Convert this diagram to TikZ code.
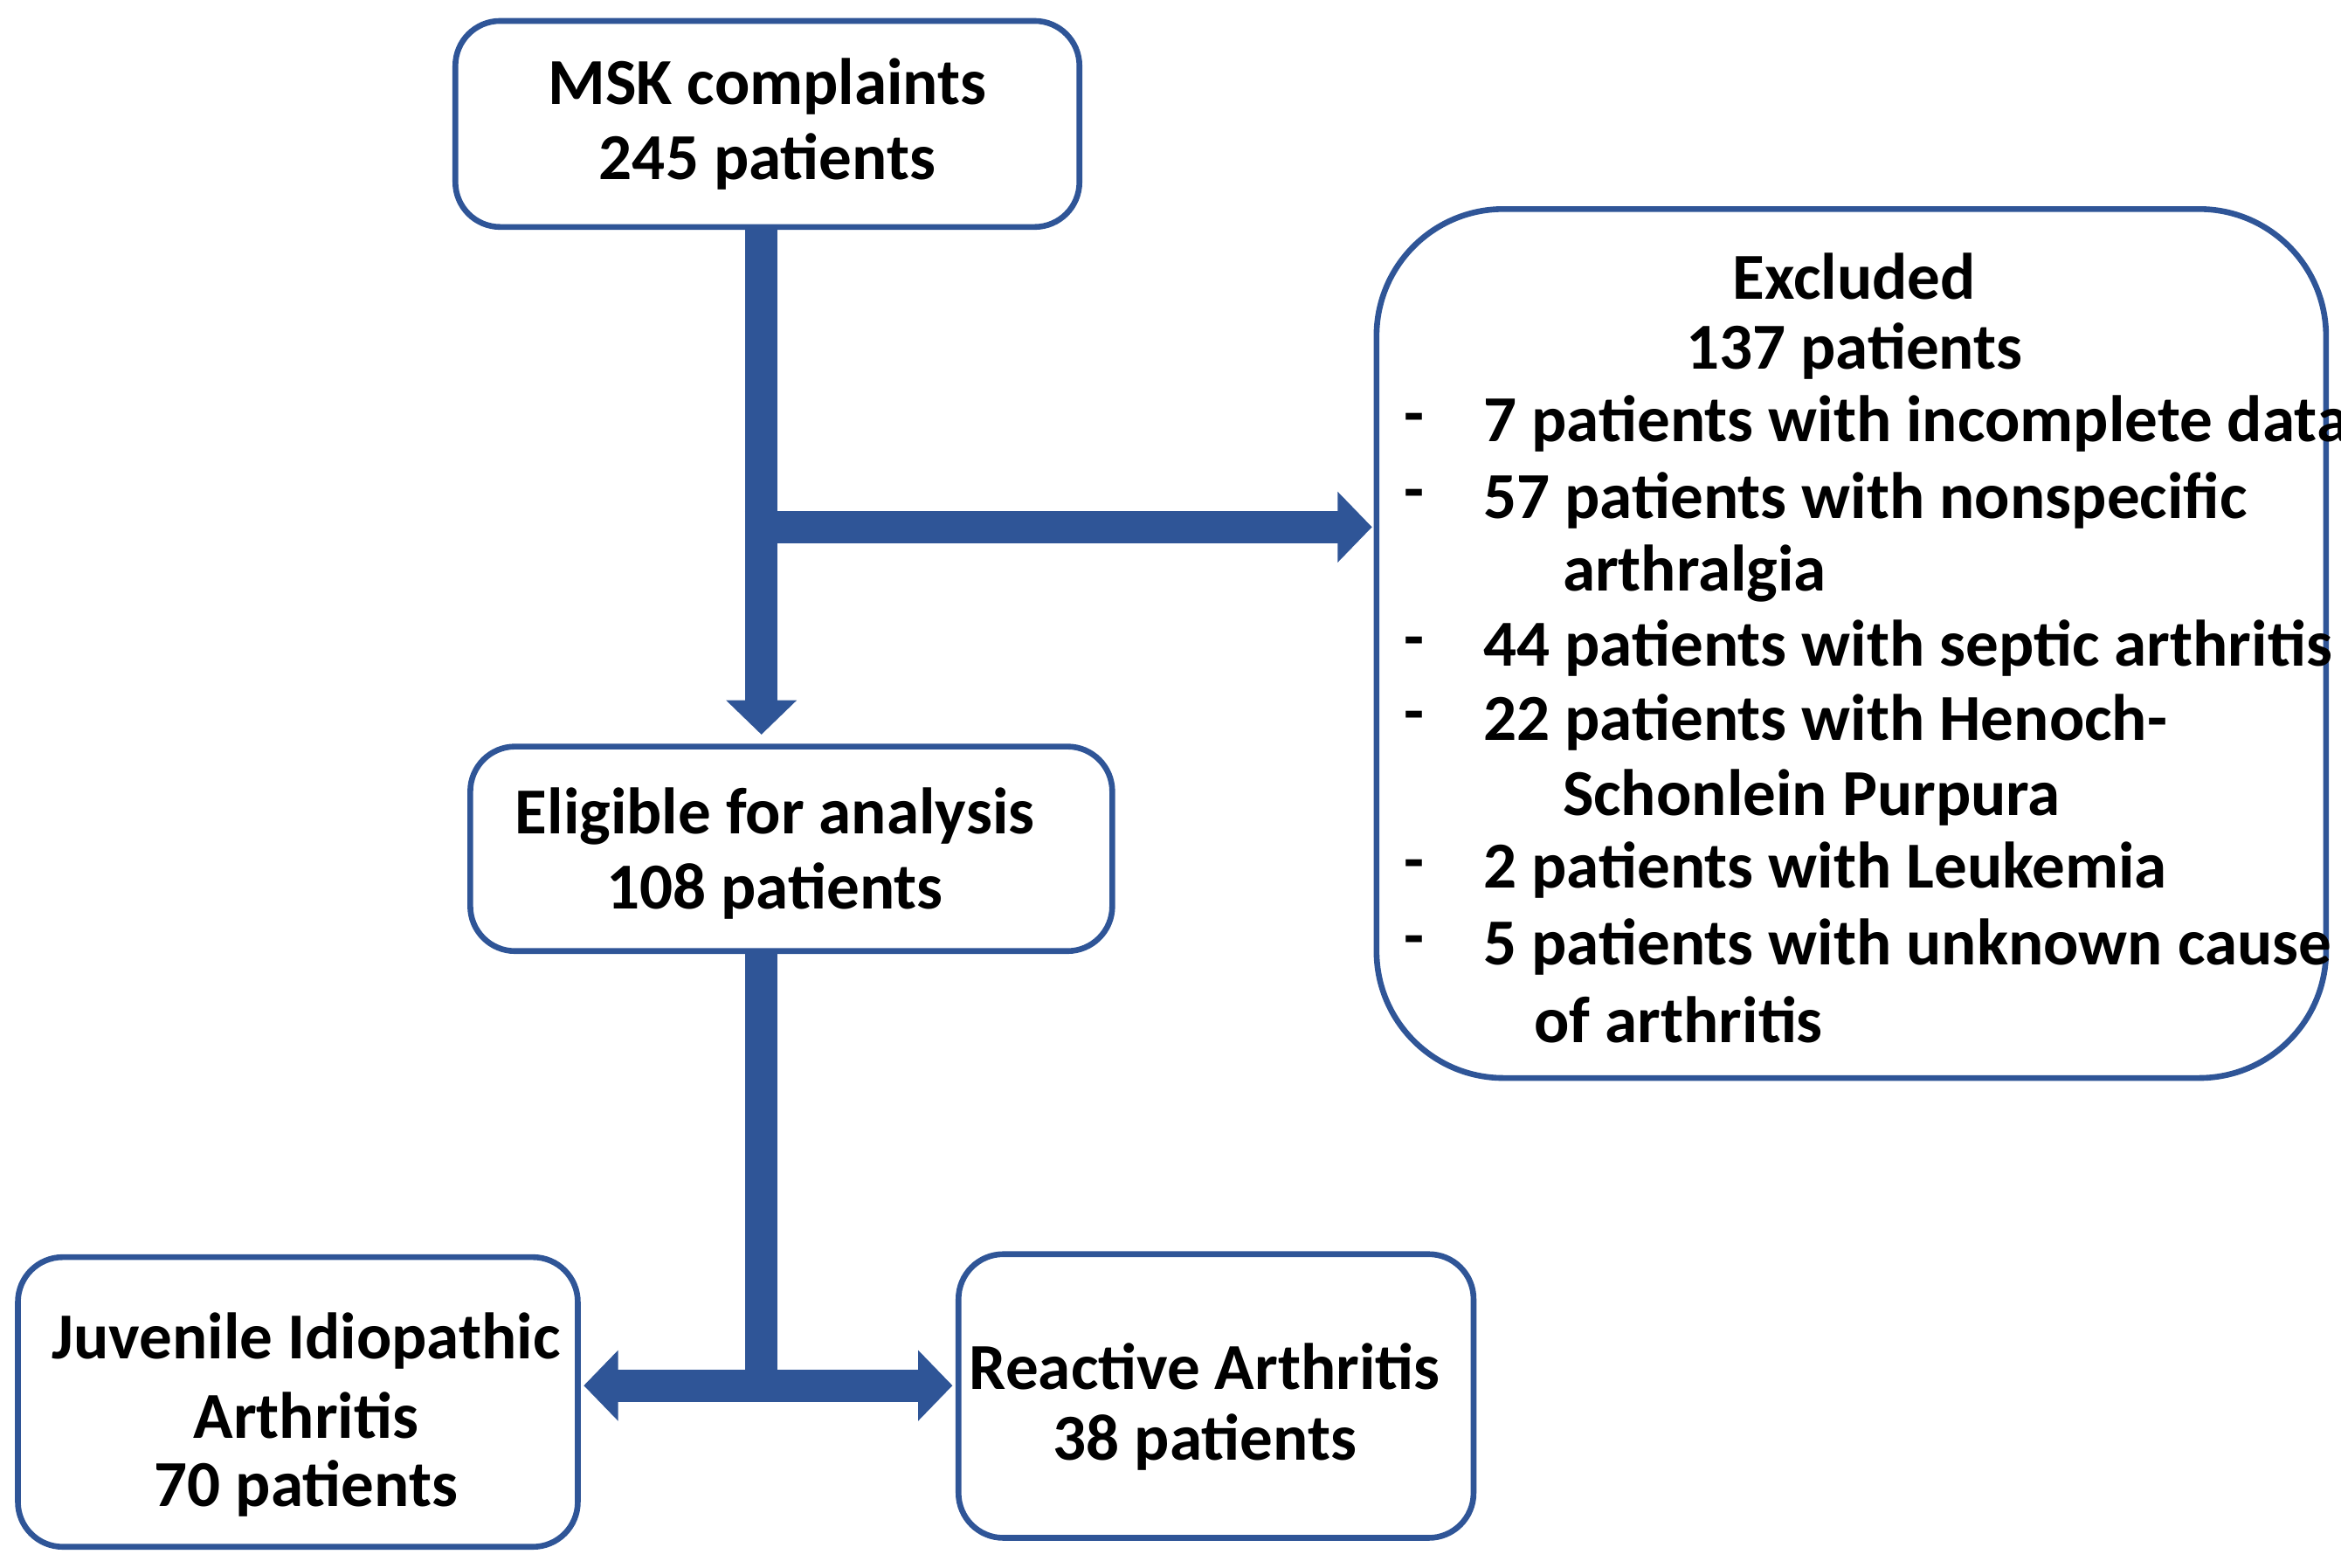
\documentclass[tikz,border=0pt]{standalone}
\usepackage{fontspec}
\setmainfont{Carlito}
\usetikzlibrary{arrows.meta}
\definecolor{bl}{HTML}{2F5597}
\begin{document}
\begin{tikzpicture}[x=0.01cm,y=-0.01cm,
 box/.style={draw=bl,line width=1.1pt,rounded corners=0.3cm},
 t/.style={font=\fontsize{12.5}{14.2}\selectfont\bfseries,inner sep=0pt},
 arr/.style={draw=bl,line width=6.2pt,-{Triangle[width=4.6mm,length=2.3mm]}}]
\useasboundingbox (0,0) rectangle (1568,1050);
\draw[box] (305,14) rectangle (723,152);
\draw[box] (315,500) rectangle (745,637);
\draw[box] (12,842) rectangle (387,1036);
\draw[box] (642,840) rectangle (987,1030);
\draw[box,rounded corners=0.85cm] (922,140) rectangle (1558,722);
\node[t] (a1) at (514,58) {MSK complaints};
\node[t] (a2) at (514,108) {245 patients};
\node[t] (b1) at (519,547) {Eligible for analysis};
\node[t] (b2) at (519,597) {108 patients};
\node[t] at (205,898) {Juvenile Idiopathic};
\node[t] at (205,948) {Arthritis};
\node[t] at (205,997) {70 patients};
\node[t] at (807,915) {Reactive Arthritis};
\node[t] at (807,966) {38 patients};
\node[t] at (1242,185) {Excluded};
\node[t] at (1242,235) {137 patients};
\foreach \y/\s in {284/7 patients with incomplete data,335/57 patients with nonspecific,434/44 patients with septic arthritis,484/22 patients with Henoch-,583/2 patients with Leukemia,634/5 patients with unknown cause}{
 \node[t] at (947,\y) {-};
 \node[t,anchor=west] at (993,\y) {\s};}
\node[t,anchor=west] at (1046,384) {arthralgia};
\node[t,anchor=west] at (1046,534) {Schonlein Purpura};
\node[t,anchor=west] at (1027,683) {of arthritis};
\coordinate (top) at (510,152);
\coordinate (mid) at (510,492);
\coordinate (br) at (499,353);
\coordinate (exc) at (919,353);
\coordinate (c2) at (510,637);
\coordinate (c3) at (510,928);
\coordinate (jl) at (391,928);
\coordinate (rr) at (638,928);
\draw[arr] (top) -- (mid);
\draw[arr] (br) -- (exc);
\draw[draw=bl,line width=6.2pt] (c2) -- (c3);
\draw[arr,{Triangle[width=4.6mm,length=2.3mm]}-{Triangle[width=4.6mm,length=2.3mm]}] (jl) -- (rr);
\end{tikzpicture}
\end{document}
